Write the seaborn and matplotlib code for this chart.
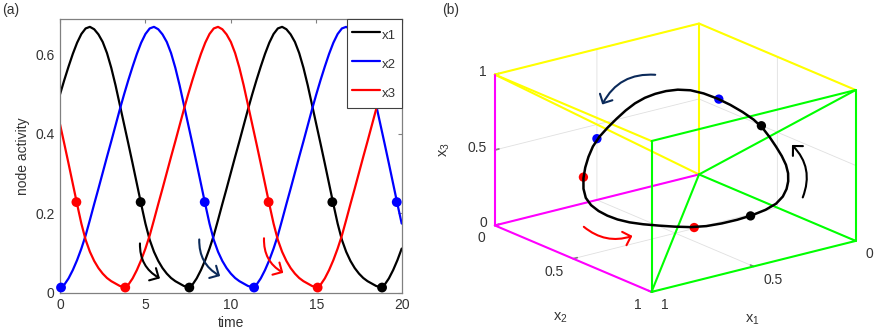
import numpy as np
import pandas as pd
import matplotlib
matplotlib.use("Agg")
import matplotlib.pyplot as plt
import seaborn as sns
from mpl_toolkits.mplot3d import proj3d

# ---------------- data ----------------
time = np.linspace(0, 20, 81)

x1 = [0.499, 0.535, 0.569, 0.601, 0.629, 0.651, 0.665, 0.669, 0.663, 0.650,
      0.631, 0.603, 0.566, 0.522, 0.473, 0.424, 0.375, 0.325, 0.274, 0.223,
      0.174, 0.133, 0.103, 0.080, 0.062, 0.048, 0.037, 0.029, 0.023, 0.017,
      0.014, 0.020, 0.036, 0.057, 0.082, 0.111, 0.144, 0.183, 0.223, 0.262,
      0.302, 0.342, 0.381, 0.421, 0.461, 0.499, 0.535, 0.569, 0.601, 0.629,
      0.651, 0.665, 0.669, 0.663, 0.650, 0.631, 0.603, 0.566, 0.522, 0.473,
      0.424, 0.375, 0.325, 0.274, 0.223, 0.174, 0.133, 0.103, 0.080, 0.062,
      0.048, 0.037, 0.029, 0.023, 0.017, 0.014, 0.020, 0.036, 0.057, 0.082,
      0.111]

x2 = [0.014, 0.020, 0.036, 0.057, 0.082, 0.111, 0.144, 0.183, 0.223, 0.262,
      0.302, 0.342, 0.381, 0.421, 0.461, 0.499, 0.535, 0.569, 0.601, 0.629,
      0.651, 0.665, 0.669, 0.663, 0.650, 0.631, 0.603, 0.566, 0.522, 0.473,
      0.424, 0.375, 0.325, 0.274, 0.223, 0.174, 0.133, 0.103, 0.080, 0.062,
      0.048, 0.037, 0.029, 0.023, 0.017, 0.014, 0.020, 0.036, 0.057, 0.082,
      0.111, 0.144, 0.183, 0.223, 0.262, 0.302, 0.342, 0.381, 0.421, 0.461,
      0.499, 0.535, 0.569, 0.601, 0.629, 0.651, 0.665, 0.669, 0.663, 0.650,
      0.631, 0.603, 0.566, 0.522, 0.473, 0.424, 0.375, 0.325, 0.274, 0.223,
      0.174]

x3 = [0.424, 0.375, 0.325, 0.274, 0.223, 0.174, 0.133, 0.103, 0.080, 0.062,
      0.048, 0.037, 0.029, 0.023, 0.017, 0.014, 0.020, 0.036, 0.057, 0.082,
      0.111, 0.144, 0.183, 0.223, 0.262, 0.302, 0.342, 0.381, 0.421, 0.461,
      0.499, 0.535, 0.569, 0.601, 0.629, 0.651, 0.665, 0.669, 0.663, 0.650,
      0.631, 0.603, 0.566, 0.522, 0.473, 0.424, 0.375, 0.325, 0.274, 0.223,
      0.174, 0.133, 0.103, 0.080, 0.062, 0.048, 0.037, 0.029, 0.023, 0.017,
      0.014, 0.020, 0.036, 0.057, 0.082, 0.111, 0.144, 0.183, 0.223, 0.262,
      0.302, 0.342, 0.381, 0.421, 0.461, 0.499, 0.535, 0.569, 0.601, 0.629,
      0.651]

series_names = ["x1", "x2", "x3"]
series_colors = {"x1": "#000000", "x2": "#0000ff", "x3": "#ff0000"}

# event dots in panel (a)
dot_time = [0.96, 4.72, 8.47, 12.21, 15.94, 19.71, 0.06, 3.82, 7.57, 11.36, 15.08, 18.85]
dot_value = [0.228, 0.228, 0.228, 0.228, 0.228, 0.228, 0.013, 0.013, 0.013, 0.013, 0.013, 0.013]
dot_series = ["x3", "x1", "x2", "x3", "x1", "x2", "x2", "x3", "x1", "x2", "x3", "x1"]

# one period of the orbit (samples) for panel (b)
orbit_samples = 46

# event dots in panel (b)
dot3_x1 = [0.626, 0.228, 0.078, 0.510, 0.415, 0.013]
dot3_x2 = [0.078, 0.626, 0.228, 0.013, 0.510, 0.415]
dot3_x3 = [0.228, 0.078, 0.626, 0.415, 0.013, 0.510]
dot3_series = ["x3", "x1", "x2", "x2", "x3", "x1"]

# coloured network lines of panel (b)
yellow_edges = [((1, 0, 1), (0, 0, 1)), ((0, 0, 1), (0, 1, 1)), ((0, 0, 1), (0, 0, 0)),
                ((1, 0, 1), (1, 1, 1)), ((1, 0, 1), (0, 0, 0))]
magenta_edges = [((1, 0, 1), (1, 0, 0)), ((1, 0, 0), (1, 1, 0)), ((1, 0, 0), (0, 0, 0))]
green_edges = [((1, 1, 1), (0, 1, 1)), ((1, 1, 1), (1, 1, 0)), ((0, 1, 1), (0, 1, 0)),
               ((1, 1, 0), (0, 1, 0)), ((0, 1, 1), (0, 0, 0)), ((1, 1, 0), (0, 0, 0)),
               ((0, 0, 0), (0, 1, 0))]
edge_colors = {"yellow": "#ffff00", "magenta": "#ff00ff", "green": "#00ff00"}

ticks3 = [0, 0.5, 1]
tick3_labels = ["0", "0.5", "1"]

# ---------------- style ----------------
sns.set_theme(style="white")
plt.rcParams["font.family"] = ["Liberation Sans", "DejaVu Sans"]
plt.rcParams["mathtext.default"] = "regular"
TXT = "#333333"
NAVY = "#0b2a5a"
W, H = 877, 336
ARROW = "->,head_length=0.42,head_width=0.42"

fig = plt.figure(figsize=(8.77, 3.36), dpi=100)

# ---------------- panel (a) ----------------
ax = fig.add_axes([60 / W, (H - 292.7) / H, 341.7 / W, 273.4 / H])
df = pd.DataFrame({
    "time": np.tile(time, 3),
    "value": x1 + x2 + x3,
    "series": np.repeat(series_names, len(time)),
})
sns.lineplot(data=df, x="time", y="value", hue="series", hue_order=series_names,
             palette=series_colors, linewidth=1.6, estimator=None, sort=False, ax=ax)
dots = pd.DataFrame({"time": dot_time, "value": dot_value, "series": dot_series})
sns.scatterplot(data=dots, x="time", y="value", hue="series", hue_order=series_names,
                palette=series_colors, s=50, linewidth=0, legend=False, ax=ax,
                zorder=5, clip_on=False)

ax.set_xlim(0, 20)
ax.set_ylim(0, 0.688)
ax.set_xticks([0, 5, 10, 15, 20])
ax.set_xticklabels(["0", "5", "10", "15", "20"])
ax.set_yticks([0, 0.2, 0.4, 0.6])
ax.set_yticklabels(["0", "0.2", "0.4", "0.6"])
ax.tick_params(direction="in", length=3, width=0.8, top=True, right=True,
               color="#808080", labelcolor=TXT, labelsize=10, pad=4)
for sp in ax.spines.values():
    sp.set_color("#808080")
    sp.set_linewidth(0.9)
ax.set_xlabel("time", fontsize=10, color=TXT, labelpad=3)
ax.set_ylabel("node activity", fontsize=10, color=TXT, labelpad=4)

handles, labels = ax.get_legend_handles_labels()
leg = ax.legend(handles, labels, loc="upper right", bbox_to_anchor=(1.0, 1.0),
                borderaxespad=0, fontsize=9.5, handlelength=2.15, handleheight=1.9,
                handletextpad=0.15, labelspacing=0.75, borderpad=0.4,
                fancybox=False, framealpha=1, edgecolor="#404040")
leg.get_frame().set_linewidth(0.8)
for t in leg.get_texts():
    t.set_color(TXT)

arrow_a = [((4.68, 0.124), (5.85, 0.036), "#000000"),
           ((8.15, 0.134), (9.37, 0.042), NAVY),
           ((11.94, 0.137), (13.07, 0.050), "#ff0000")]
for (s, e, c) in arrow_a:
    ax.annotate("", xy=e, xytext=s, xycoords="data", textcoords="data",
                arrowprops=dict(arrowstyle=ARROW, connectionstyle="arc3,rad=0.3",
                                color=c, lw=1.5, shrinkA=0, shrinkB=0, mutation_scale=12))

fig.text(2 / W, 1 - 3 / H, "(a)", ha="left", va="top", fontsize=10, color=TXT)

# ---------------- panel (b) ----------------
ax3 = fig.add_axes([471 / W, 16.0 / H, 400 / W, 316.0 / H], projection="3d",
                   proj_type="ortho", computed_zorder=False)
ax3.view_init(elev=19, azim=52.5)
ax3.set_box_aspect((1, 1, 0.62), zoom=1.221)
ax3.set_xlim(0, 1)
ax3.set_ylim(0, 1)
ax3.set_zlim(0, 1)
ax3.grid(True)
for axis in (ax3.xaxis, ax3.yaxis, ax3.zaxis):
    axis.set_pane_color((1, 1, 1, 0))
    axis.pane.set_edgecolor((1, 1, 1, 0))
    axis.line.set_color((0, 0, 0, 0))
    axis._axinfo["grid"]["color"] = (0.88, 0.88, 0.88, 1)
    axis._axinfo["grid"]["linewidth"] = 0.6
    axis._axinfo["tick"]["inward_factor"] = 0.0
    axis._axinfo["tick"]["outward_factor"] = 0.25
    axis.set_ticks(ticks3)
    axis.set_ticklabels(["", "", ""])
    for tk in axis.get_major_ticks():
        tk.label1.set_visible(False)
        tk.label2.set_visible(False)
    axis.label.set_visible(False)
ax3.title.set_visible(False)
ax3.tick_params(colors="#808080", labelsize=10)

for name, edges in (("yellow", yellow_edges), ("magenta", magenta_edges), ("green", green_edges)):
    for (p, q) in edges:
        ax3.plot([p[0], q[0]], [p[1], q[1]], [p[2], q[2]], color=edge_colors[name],
                 lw=1.5, clip_on=False)

ax3.plot(x1[:orbit_samples], x2[:orbit_samples], x3[:orbit_samples], color="black",
         lw=1.8, clip_on=False)
ax3.scatter(dot3_x1, dot3_x2, dot3_x3, c=[series_colors[s] for s in dot3_series],
            s=45, depthshade=False, linewidths=0, clip_on=False)

# tick labels placed MATLAB-like next to the front edges: project the 3-D anchor
# through the axes' own projection and write 2-D text in the axes' data space
fig.canvas.draw()
M = ax3.get_proj()


def tick_text(px, py, pz, s, ha):
    u, v, _ = proj3d.proj_transform(px, py, pz, M)
    ax3.text2D(u, v, s, transform=ax3.transData, ha=ha, va="center",
               fontsize=10, color=TXT)


for val, lab in zip(ticks3, tick3_labels):
    tick_text(1.046, val, -0.071, lab, "right")     # x2 axis
    tick_text(val, 1.063, -0.061, lab, "left")      # x1 axis
    tick_text(1.039, 0.0, val + 0.027, lab, "right")  # x3 axis

# axis titles of the 3-D panel (kept upright as in the reference)
fig.text(560 / W, 1 - 318 / H, "x$_2$", ha="center", va="center", fontsize=10.5, color=TXT)
fig.text(752 / W, 1 - 320 / H, "x$_1$", ha="center", va="center", fontsize=10.5, color=TXT)
fig.text(445 / W, 1 - 150 / H, "x$_3$", ha="center", va="center", fontsize=10.5,
         color=TXT, rotation=90)

arrow_b = [((658, 261), (601, 229), NAVY, 0.35),
           ((801.7, 136), (790, 193), "#000000", 0.35),
           ((581.7, 111), (635, 101), "#ff0000", 0.3)]
for (s, e, c, r) in arrow_b:
    fig.add_artist(matplotlib.patches.FancyArrowPatch(
        posA=(s[0] / W, s[1] / H), posB=(e[0] / W, e[1] / H),
        transform=fig.transFigure, arrowstyle=ARROW,
        connectionstyle=f"arc3,rad={r}", color=c, lw=1.5, mutation_scale=12))

fig.text(442 / W, 1 - 3 / H, "(b)", ha="left", va="top", fontsize=10, color=TXT)

fig.savefig("out.png", dpi=100)
